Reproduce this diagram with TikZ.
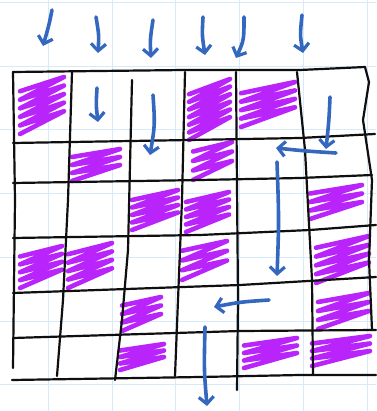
\documentclass[tikz,border=0pt]{standalone}
\usepackage{tikz}
\usetikzlibrary{arrows.meta}
\definecolor{cPaper}{RGB}{214,234,250}
\definecolor{cInk}{RGB}{15,15,15}
\definecolor{cPen}{RGB}{52,104,190}
\definecolor{cMark}{RGB}{184,36,250}
\tikzset{
  paperline/.style={draw=cPaper, line width=1pt},
  gridline/.style={draw=cInk, line width=2.2pt, line cap=round, line join=round},
  scribble/.style={draw=cMark, line width=4.6pt, line cap=round, line join=round},
  penarrow/.style={draw=cPen, line width=3.6pt, line cap=round,
                   -{Straight Barb[length=7pt, width=15pt, line width=3.2pt]}}
}
% purple hatching inside one cell: x1, y1, x2, y2
\newcommand{\scrib}[4]{%
  \pgfmathsetmacro{\sd}{0.25*(#4-#2)}%
  \pgfmathtruncatemacro{\nz}{max(3,(#4-#2)/10)}%
  \pgfmathsetmacro{\ss}{(#4-#2-\sd)/\nz}%
  \draw[scribble] (#1,{#2+\sd}) \foreach \k in {1,...,\nz}
      { -- (#3,{#2+(\k-1)*\ss}) -- (#1,{#2+\k*\ss+\sd}) };
}

\begin{document}
\begin{tikzpicture}[x=1pt, y=-1pt]

  % Paper
  \useasboundingbox (0,0) rectangle (376,411);
  \fill[white] (0,0) rectangle (376,411);
  \foreach \gx in {48.5,112.2,175.9,239.6,303.3,367}
    \draw[paperline] (\gx,0) -- (\gx,411);
  \foreach \gy in {2.5,66.2,129.9,193.6,257.3,321,384.7}
    \draw[paperline] (0,\gy) -- (376,\gy);

  % Marked cells
  \scrib{20}{77}{64}{134}
  \scrib{189}{79}{230}{140}
  \scrib{241}{82}{295}{127}
  \scrib{72}{149}{120}{181}
  \scrib{193}{142}{232}{180}
  \scrib{132}{190}{178}{230}
  \scrib{186}{192}{229}{232}
  \scrib{310}{185}{362}{219}
  \scrib{20}{246}{62}{288}
  \scrib{68}{243}{112}{288}
  \scrib{182}{241}{227}{280}
  \scrib{316}{236}{369}{283}
  \scrib{122}{297}{161}{331}
  \scrib{318}{293}{369}{329}
  \scrib{120}{344}{164}{370}
  \scrib{244}{338}{297}{368}
  \scrib{312}{336}{370}{366}

  % Grid, rows
  \draw[gridline] (13,72) -- (185,70) -- (300,70) -- (365,67);
  \draw[gridline] (13,143) -- (190,140) -- (300,138) -- (375,134);
  \draw[gridline] (13,183) -- (200,180) -- (300,178) -- (372,175);
  \draw[gridline] (13,238) -- (200,235) -- (310,230) -- (376,225);
  \draw[gridline] (13,293) -- (240,285) -- (376,277);
  \draw[gridline] (13,338) -- (240,331) -- (376,330);
  \draw[gridline] (12,380) -- (200,377) -- (300,375) -- (376,375);

  % Grid, columns
  \draw[gridline] (13,72) -- (15,200) -- (13,368);
  \draw[gridline] (72,72) -- (68,200) -- (63,300) -- (57,376);
  \draw[gridline] (132,80) -- (128,250) -- (122,320) -- (115,380);
  \draw[gridline] (185,72) -- (182,200) -- (178,300) -- (175,376);
  \draw[gridline] (236,72) -- (238,300) -- (237,390);
  \draw[gridline] (297,72) -- (305,150) -- (312,280) -- (313,374);
  \draw[gridline] (365,67) -- (369,82) -- (363,120) -- (372,180)
      -- (369,260) -- (372,330);

  % Arrows above the grid
  \draw[penarrow] (52,10) .. controls (49,25) .. (43,46);
  \draw[penarrow] (96,17) .. controls (99,35) .. (98,53);
  \draw[penarrow] (153,20) .. controls (150,40) .. (151,58);
  \draw[penarrow] (203,17) .. controls (202,35) .. (205,55);
  \draw[penarrow] (244,17) .. controls (244,40) .. (236,58);
  \draw[penarrow] (302,15) .. controls (300,35) .. (303,53);

  % Arrows inside the grid
  \draw[penarrow] (97,88) .. controls (96,105) .. (98,122);
  \draw[penarrow] (153,95) .. controls (155,125) .. (150,155);
  \draw[penarrow] (330,97) .. controls (329,120) .. (326,149);
  \draw[penarrow] (336,153) .. controls (305,151) .. (276,148);
  \draw[penarrow] (277,162) .. controls (279,220) .. (277,276);
  \draw[penarrow] (269,300) .. controls (240,302) .. (214,307);
  \draw[penarrow] (205,327) .. controls (204,370) .. (207,406);

\end{tikzpicture}
\end{document}
